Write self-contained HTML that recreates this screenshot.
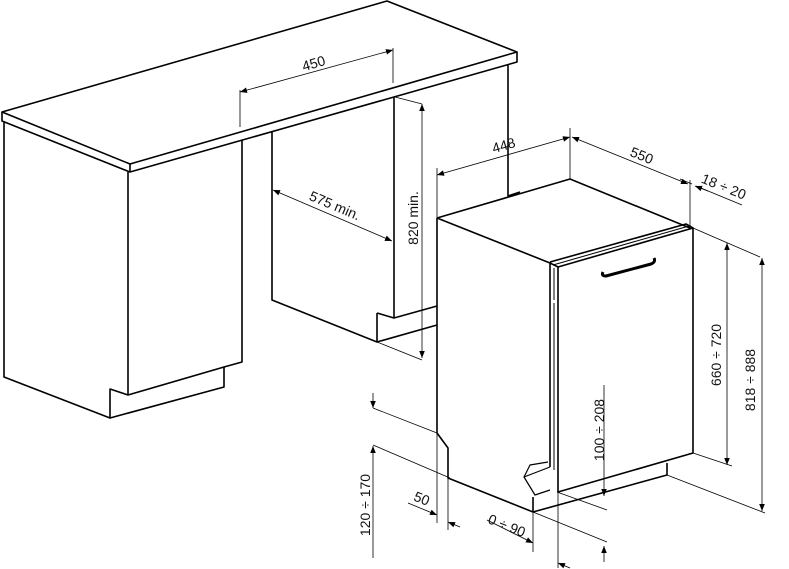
<!DOCTYPE html>
<html><head><meta charset="utf-8"><style>
html,body{margin:0;padding:0;background:#fff;}
svg{display:block}
text{font-family:"Liberation Sans",sans-serif;font-size:14px;fill:#111}
</style></head><body>
<svg width="789" height="569" viewBox="0 0 789 569" xmlns="http://www.w3.org/2000/svg">
<defs>
<marker id="a" viewBox="0 0 10 10" refX="10" refY="5" markerWidth="9" markerHeight="7" orient="auto-start-reverse" markerUnits="userSpaceOnUse"><path d="M0,1 L10,5 L0,9 z" fill="#000"/></marker>
</defs>
<g fill="none" stroke="#000" stroke-width="1.6" stroke-linejoin="round">
<path d="M2,112 L387,1 L517,52 L130,164 Z"/>
<path d="M2,112 L2,121 L130,172 L517,62 L517,52"/>
<path d="M130,164 L130,172"/>
<path d="M4,122 L4,377 L110,418"/>
<path d="M128,172 L128,394"/>
<path d="M242,140 L242,362 L224,367"/>
<path d="M110,389 L128,395 L224,367 L224,387 L110,418 Z"/>
<path d="M272,132 L272,300 L377,342"/>
<path d="M394,97 L394,318"/>
<path d="M377,313 L394,318 L437,306"/>
<path d="M377,313 L377,342 L437,325"/>
<path d="M508,65 L508,196 L520,192"/>
<path d="M437,218 L570,179 L690,228"/>
<path d="M437,218 L550,263 L550,467"/>
<path d="M437,218 L437,433 L448,448 L448,478 L533,512 L667,475 L667,463"/>
<path d="M533,497 L533,512"/>
<path d="M558,267 L693,228 L693,453 L558,492 Z"/>
<path d="M550,263 L558,267"/>
<path d="M550,262 L686,224 L693,228"/>
<path d="M553,265 L689,226" stroke-width="1"/>
<path d="M554,268 L554,300 M554,303 L554,470" stroke-width="1"/>
<path d="M603,272 Q601,276 606,276 L651,264 Q656,262 654,258" stroke-width="3"/>
<path d="M550,467 L524,477 L530,465 L548,462 M524,477 L535,495 L550,490" stroke-width="1.2"/>
</g>
<g fill="none" stroke="#000" stroke-width="0.8">
<path d="M240,90 L240,127 M393,48 L393,83"/>
<path d="M240,92 L393,50" marker-start="url(#a)" marker-end="url(#a)"/>
<path d="M273,190 L392,241" marker-start="url(#a)" marker-end="url(#a)"/>
<path d="M422,104 L422,358" marker-start="url(#a)" marker-end="url(#a)"/>
<path d="M395,97 L422,104 M377,342 L422,360"/>
<path d="M437,168 L437,218 M570,128 L570,179"/>
<path d="M437,175 L570,137" marker-start="url(#a)" marker-end="url(#a)"/>
<path d="M572,137 L688,184" marker-start="url(#a)" marker-end="url(#a)"/>
<path d="M690,180 L690,228"/>
<path d="M680,179 L692,184 M696,186 L742,205"/>
<path d="M708,191 L695,186" marker-end="url(#a)"/>
<path d="M693,228 L760,257 M693,453 L732,466"/>
<path d="M727,243 L727,465" marker-start="url(#a)" marker-end="url(#a)"/>
<path d="M667,475 L765,513"/>
<path d="M762,258 L762,511" marker-start="url(#a)" marker-end="url(#a)"/>
<path d="M604,385 L604,496" marker-end="url(#a)"/>
<path d="M604,562 L604,546" marker-end="url(#a)"/>
<path d="M557,492 L607,510 M533,512 L607,542"/>
<path d="M558,492 L558,568 M533,512 L533,552"/>
<path d="M487,520 L533,543" marker-end="url(#a)"/>
<path d="M570,568 L558,563" marker-end="url(#a)"/>
<path d="M437,433 L437,523 M448,478 L448,530"/>
<path d="M408,503 L437,515" marker-end="url(#a)"/>
<path d="M460,527 L448,522" marker-end="url(#a)"/>
<path d="M373,393 L373,408" marker-end="url(#a)"/>
<path d="M373,558 L373,446" marker-end="url(#a)"/>
<path d="M373,408 L437,433 M373,445 L450,478"/>
</g>
<text transform="translate(315,68) rotate(-16)" text-anchor="middle">450</text>
<text transform="translate(333,210) rotate(23)" text-anchor="middle">575 min.</text>
<text transform="translate(418,218) rotate(-90)" text-anchor="middle">820 min.</text>
<text transform="translate(505,150) rotate(-16)" text-anchor="middle">448</text>
<text transform="translate(640,160) rotate(22)" text-anchor="middle">550</text>
<text transform="translate(722,191) rotate(22)" text-anchor="middle">18 ÷ 20</text>
<text transform="translate(721,355) rotate(-90)" text-anchor="middle">660 ÷ 720</text>
<text transform="translate(755,380) rotate(-90)" text-anchor="middle">818 ÷ 888</text>
<text transform="translate(604,430) rotate(-90)" text-anchor="middle">100 ÷ 208</text>
<text transform="translate(505,530) rotate(22)" text-anchor="middle">0 ÷ 90</text>
<text transform="translate(420,503) rotate(22)" text-anchor="middle">50</text>
<text transform="translate(370,505) rotate(-90)" text-anchor="middle">120 ÷ 170</text>
</svg>
</body></html>
